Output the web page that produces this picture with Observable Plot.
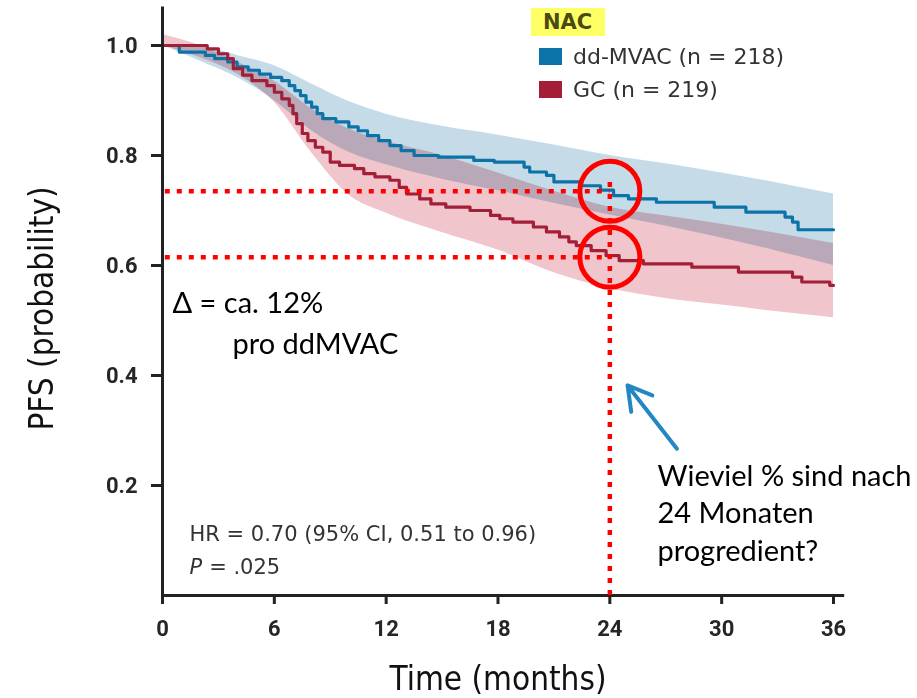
<!DOCTYPE html>
<html>
<head>
<meta charset="utf-8">
<script src="https://cdn.jsdelivr.net/npm/d3@7"></script>
<script src="https://cdn.jsdelivr.net/npm/@observablehq/plot@0.6"></script>
<style>
  body { margin: 0; background: #fff; }
  #wrap { position: relative; width: 917px; height: 698px; overflow: hidden; }
  #legend { position: absolute; left: 531px; top: 8px; font-family: "DejaVu Sans", sans-serif; color: #333; }
  #legend .title { display: inline-block; background: #ffff66; font-weight: bold; font-size: 21px; color: #4a4a12; padding: 1px 13px 0 12px; line-height: 27px; }
  #legend .item { position: relative; height: 33px; margin-left: 8px; font-size: 22px; line-height: 24px; white-space: nowrap; }
  #legend .sw { display: inline-block; width: 23px; height: 17px; vertical-align: -1px; margin-right: 11px; }
</style>
</head>
<body>
<div id="wrap"><div id="legend"></div></div>
<script>
// ---- data ----
const monthTicks = [0, 6, 12, 18, 24, 30, 36];
const probTicks = [0.2, 0.4, 0.6, 0.8, 1.0];
const legendTitle = "NAC";
const seriesNames = ["dd-MVAC (n = 218)", "GC (n = 219)"];
const seriesColors = ["#0b73a8", "#a31f38"];
const bandColors = ["#c5dbe8", "#f0c5cb"];

// Kaplan-Meier step points (month, PFS)
const mvacTime = [0, 0.9, 2.3, 2.8, 3.5, 4.0, 4.6, 5.2, 5.8, 6.4, 6.8, 7.1, 7.4, 7.7, 8.0, 8.3, 8.6, 9.3, 10.0, 10.5, 11.0, 11.6, 12.2, 12.8, 13.5, 14.8, 16.7, 17.8, 19.4, 19.7, 20.6, 21.0, 22.4, 23.5, 24.2, 25.0, 26.5, 29.6, 31.3, 33.4, 33.8, 34.1, 36];
const mvacSurv = [1.0, 0.988, 0.982, 0.976, 0.970, 0.961, 0.955, 0.948, 0.942, 0.936, 0.927, 0.918, 0.909, 0.897, 0.888, 0.876, 0.867, 0.861, 0.852, 0.845, 0.836, 0.827, 0.818, 0.809, 0.800, 0.797, 0.791, 0.788, 0.779, 0.770, 0.764, 0.752, 0.745, 0.737, 0.727, 0.721, 0.715, 0.706, 0.697, 0.688, 0.679, 0.665, 0.665];
const gcTime = [0, 2.4, 3.0, 3.5, 3.8, 4.3, 4.8, 5.6, 6.0, 6.4, 6.8, 7.0, 7.2, 7.5, 7.8, 8.2, 8.6, 9.0, 9.5, 10.3, 10.8, 11.4, 12.2, 12.7, 13.1, 13.8, 14.4, 15.2, 16.5, 17.6, 18.1, 18.8, 19.9, 20.6, 21.3, 21.8, 22.2, 23.0, 23.8, 24.5, 25.8, 28.4, 30.9, 33.8, 34.3, 35.8, 36];
const gcSurv = [1.0, 0.994, 0.985, 0.976, 0.958, 0.946, 0.936, 0.927, 0.915, 0.903, 0.891, 0.876, 0.858, 0.840, 0.827, 0.815, 0.806, 0.788, 0.782, 0.776, 0.767, 0.761, 0.755, 0.742, 0.730, 0.721, 0.712, 0.706, 0.700, 0.691, 0.685, 0.679, 0.670, 0.661, 0.652, 0.643, 0.636, 0.627, 0.618, 0.609, 0.603, 0.597, 0.588, 0.579, 0.570, 0.564, 0.564];

// 95% confidence bands
const ciTime = [0, 2, 4, 6, 8, 10, 12, 15, 18, 21, 24, 27, 30, 33, 36];
const mvacUpper = [1.0, 0.998, 0.982, 0.963, 0.930, 0.898, 0.875, 0.853, 0.837, 0.819, 0.800, 0.785, 0.768, 0.750, 0.730];
const mvacLower = [1.0, 0.972, 0.942, 0.900, 0.845, 0.806, 0.783, 0.757, 0.736, 0.713, 0.692, 0.672, 0.650, 0.626, 0.600];
const gcUpper = [1.02, 1.0, 0.970, 0.935, 0.885, 0.848, 0.826, 0.800, 0.768, 0.735, 0.706, 0.690, 0.675, 0.658, 0.640];
const gcLower = [1.0, 0.978, 0.948, 0.897, 0.805, 0.728, 0.695, 0.660, 0.628, 0.587, 0.558, 0.540, 0.528, 0.516, 0.505];

// reading guides at 24 months
const readMonth = 24;
const readValues = [0.735, 0.615];
const arrowData = [{x1: 27.6, y1: 0.267, x2: 24.95, y2: 0.382}];

// texts
const hrText = "HR = 0.70 (95% CI, 0.51 to 0.96)";
const pText = ["P", " = .025"];
const deltaText = ["Δ = ca. 12%", "pro ddMVAC"];
const questionText = "Wieviel % sind nach\n24 Monaten\nprogredient?";
const xLabel = "Time (months)";
const yLabel = "PFS (probability)";

// ---- build tables ----
const mvac = mvacTime.map((t, i) => ({t, s: mvacSurv[i]}));
const gc = gcTime.map((t, i) => ({t, s: gcSurv[i]}));
const mvacBand = ciTime.map((t, i) => ({t, lo: mvacLower[i], hi: mvacUpper[i]}));
const gcBand = ciTime.map((t, i) => ({t, lo: gcLower[i], hi: gcUpper[i]}));
const circles = readValues.map(v => ({t: readMonth, v}));

const annoFont = "Lato, 'Open Sans', sans-serif";
const axisFont = "'DejaVu Sans Condensed', 'Liberation Sans Narrow', sans-serif";
const tickFont = "Roboto, 'Liberation Sans', sans-serif";

const chart = Plot.plot({
  width: 917,
  height: 698,
  marginLeft: 162,
  marginRight: 84,
  marginTop: 45,
  marginBottom: 103,
  x: {domain: [0, 36]},
  y: {domain: [0, 1]},
  style: {fontFamily: "'DejaVu Sans', sans-serif", fontSize: "20px", color: "#222", background: "white", overflow: "visible"},
  marks: [
    Plot.areaY(mvacBand, {x: "t", y1: "lo", y2: "hi", fill: bandColors[0], curve: "monotone-x", mixBlendMode: "multiply"}),
    Plot.areaY(gcBand, {x: "t", y1: "lo", y2: "hi", fill: bandColors[1], curve: "monotone-x", mixBlendMode: "multiply"}),
    Plot.line(mvac, {x: "t", y: "s", curve: "step-after", stroke: seriesColors[0], strokeWidth: 3.2}),
    Plot.line(gc, {x: "t", y: "s", curve: "step-after", stroke: seriesColors[1], strokeWidth: 3.2}),
    // axis lines
    Plot.ruleX([0], {y1: 0, y2: 1.07, stroke: "#222", strokeWidth: 3}),
    Plot.ruleY([0], {x1: 0, x2: 36.6, stroke: "#222", strokeWidth: 3}),
    Plot.axisX({ticks: monthTicks, tickSize: 9, tickPadding: 16, strokeWidth: 3, fontSize: 22, fontWeight: "bold", fontFamily: tickFont, fill: "#262626"}),
    Plot.axisY({ticks: probTicks, tickSize: 11, tickPadding: 14, strokeWidth: 3, tickFormat: d3.format(".1f"), fontSize: 22, fontWeight: "bold", fontFamily: tickFont, fill: "#262626"}),
    Plot.text([xLabel], {frameAnchor: "bottom", dy: 94, textAnchor: "middle", lineAnchor: "bottom", fontSize: 33, fontFamily: axisFont, fill: "#111"}),
    Plot.text([yLabel], {frameAnchor: "left", dx: -110, dy: -12, rotate: -90, textAnchor: "middle", lineAnchor: "bottom", fontSize: 33, fontFamily: axisFont, fill: "#111"}),
    // HR text
    Plot.text([hrText], {frameAnchor: "bottom-left", dx: 27, dy: -55, textAnchor: "start", lineAnchor: "bottom", fontSize: 21, fill: "#333"}),
    Plot.text([pText[0]], {frameAnchor: "bottom-left", dx: 27, dy: -22, textAnchor: "start", lineAnchor: "bottom", fontSize: 21, fontStyle: "italic", fill: "#333"}),
    Plot.text([pText[1]], {frameAnchor: "bottom-left", dx: 40, dy: -22, textAnchor: "start", lineAnchor: "bottom", fontSize: 21, fill: "#333"}),
    // reading guides
    Plot.ruleY(readValues, {x1: 0.15, x2: readMonth, stroke: "#ff0000", strokeWidth: 4.5, strokeDasharray: "5,7"}),
    Plot.ruleX([readMonth], {y1: 0, y2: 0.762, stroke: "#ff0000", strokeWidth: 4.5, strokeDasharray: "5,7"}),
    Plot.dot(circles, {x: "t", y: "v", r: 30, stroke: "#ff0000", strokeWidth: 5, fill: "none"}),
    Plot.arrow(arrowData, {x1: "x1", y1: "y1", x2: "x2", y2: "y2", stroke: "#2288c4", strokeWidth: 4, headLength: 16}),
    // annotations
    Plot.text([deltaText[0]], {frameAnchor: "top-left", dx: 10, dy: 267, textAnchor: "start", lineAnchor: "bottom", fontSize: 29, fontFamily: annoFont, fill: "#000"}),
    Plot.text([deltaText[1]], {frameAnchor: "top-left", dx: 70, dy: 308, textAnchor: "start", lineAnchor: "bottom", fontSize: 29, fontFamily: annoFont, fill: "#000"}),
    Plot.text([questionText], {frameAnchor: "bottom-left", dx: 495, dy: -35, textAnchor: "start", lineAnchor: "bottom", lineHeight: 1.28, fontSize: 29, fontFamily: annoFont, fill: "#000"})
  ]
});
document.getElementById("wrap").prepend(chart);

// legend
const legend = document.getElementById("legend");
const title = document.createElement("div");
title.innerHTML = `<span class="title">${legendTitle}</span>`;
title.style.marginBottom = "9px";
legend.appendChild(title);
seriesNames.forEach((name, i) => {
  const item = document.createElement("div");
  item.className = "item";
  item.innerHTML = `<span class="sw" style="background:${seriesColors[i]}"></span>${name}`;
  legend.appendChild(item);
});
</script>
</body>
</html>
